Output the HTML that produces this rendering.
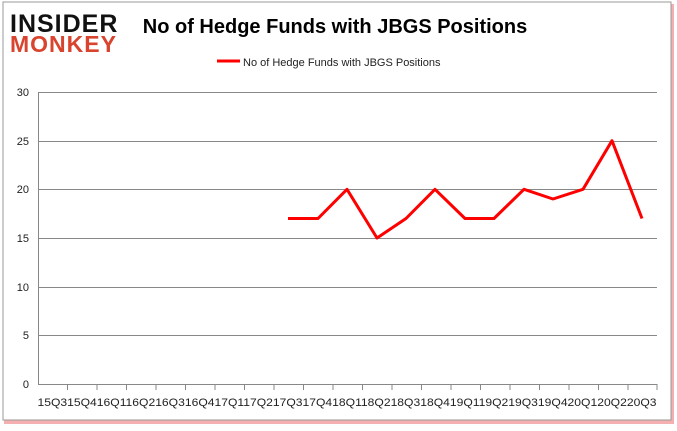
<!DOCTYPE html><html><head><style>body{margin:0;background:#fff}svg{display:block}</style></head><body>
<svg width="677" height="431" xmlns="http://www.w3.org/2000/svg" font-family="Liberation Sans, sans-serif">
<rect x="4" y="4" width="670" height="420" fill="#f4b0b0"/>
<rect x="3" y="2" width="668" height="418" fill="#fff" stroke="#999" stroke-width="1"/>
<text x="10" y="32" font-size="25" font-weight="bold" fill="#111" letter-spacing="1">INSIDER</text>
<text x="10" y="52" font-size="23" font-weight="bold" fill="#d9442e" letter-spacing="1">MONKEY</text>
<text x="335" y="33" font-size="20" font-weight="bold" text-anchor="middle" fill="#000">No of Hedge Funds with JBGS Positions</text>
<line x1="217" y1="61" x2="240" y2="61" stroke="#f00" stroke-width="3"/>
<text x="243" y="66" font-size="11" fill="#222">No of Hedge Funds with JBGS Positions</text>
<g stroke="#888" stroke-width="1">
<line x1="38" y1="92.5" x2="657" y2="92.5"/><line x1="38" y1="141.5" x2="657" y2="141.5"/><line x1="38" y1="189.5" x2="657" y2="189.5"/><line x1="38" y1="238.5" x2="657" y2="238.5"/><line x1="38" y1="287.5" x2="657" y2="287.5"/><line x1="38" y1="384.5" x2="657" y2="384.5"/><line x1="38" y1="335.5" x2="657" y2="335.5"/>
<line x1="38.5" y1="92" x2="38.5" y2="384"/>
</g>
<g stroke="#888"><path id="t" d=""/></g>
<g font-size="11" fill="#222" text-anchor="end">
<text x="29" y="96">30</text><text x="29" y="145">25</text><text x="29" y="193">20</text><text x="29" y="242">15</text><text x="29" y="291">10</text><text x="29" y="339">5</text><text x="29" y="388">0</text>
</g>
<g stroke="#888">
<line x1="67.5" y1="384" x2="67.5" y2="390"/><line x1="97" y1="384" x2="97" y2="390"/><line x1="126.5" y1="384" x2="126.5" y2="390"/><line x1="156" y1="384" x2="156" y2="390"/><line x1="185.5" y1="384" x2="185.5" y2="390"/><line x1="215" y1="384" x2="215" y2="390"/><line x1="244.5" y1="384" x2="244.5" y2="390"/><line x1="274" y1="384" x2="274" y2="390"/><line x1="303.5" y1="384" x2="303.5" y2="390"/><line x1="333" y1="384" x2="333" y2="390"/><line x1="362.5" y1="384" x2="362.5" y2="390"/><line x1="392" y1="384" x2="392" y2="390"/><line x1="421.5" y1="384" x2="421.5" y2="390"/><line x1="451" y1="384" x2="451" y2="390"/><line x1="480.5" y1="384" x2="480.5" y2="390"/><line x1="510" y1="384" x2="510" y2="390"/><line x1="539.5" y1="384" x2="539.5" y2="390"/><line x1="569" y1="384" x2="569" y2="390"/><line x1="598.5" y1="384" x2="598.5" y2="390"/><line x1="628" y1="384" x2="628" y2="390"/><line x1="657" y1="384" x2="657" y2="390"/>
</g>
<text x="347" y="406" font-size="11" fill="#222" text-anchor="middle" textLength="619" lengthAdjust="spacingAndGlyphs">15Q315Q416Q116Q216Q316Q417Q117Q217Q317Q418Q118Q218Q318Q419Q119Q219Q319Q420Q120Q220Q3</text>
<polyline fill="none" stroke="#f00" stroke-width="3" stroke-linejoin="round" points="288,218.5 318,218.5 347,189.3 377,238 406,218.5 435,189.3 465,218.5 494,218.5 524,189.3 553,199 583,189.3 612,140.7 642,218.5"/>
</svg></body></html>
